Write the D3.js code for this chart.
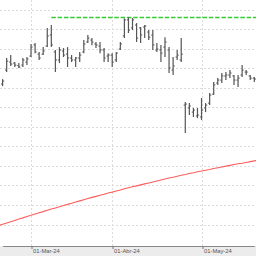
<!DOCTYPE html>
<html>
<head>
<meta charset="utf-8">
<script src="https://cdn.jsdelivr.net/npm/d3@7"></script>
<style>
  body { margin: 0; background: #fff; }
  svg { display: block; }
</style>
</head>
<body>
<div id="chart"></div>
<script>
// trading sessions; first and last are only used by the moving average (off-screen bars)
var dates = ["2024-02-20","2024-02-21","2024-02-22","2024-02-23","2024-02-26","2024-02-27","2024-02-28","2024-02-29",
  "2024-03-01","2024-03-04","2024-03-05","2024-03-06","2024-03-07","2024-03-08","2024-03-11","2024-03-12","2024-03-13",
  "2024-03-14","2024-03-15","2024-03-18","2024-03-19","2024-03-20","2024-03-21","2024-03-22","2024-03-25","2024-03-26",
  "2024-03-27","2024-03-28","2024-04-01","2024-04-02","2024-04-03","2024-04-04","2024-04-05","2024-04-08","2024-04-09",
  "2024-04-10","2024-04-11","2024-04-12","2024-04-15","2024-04-16","2024-04-17","2024-04-18","2024-04-19","2024-04-22",
  "2024-04-23","2024-04-24","2024-04-25","2024-04-26","2024-04-29","2024-04-30","2024-05-01","2024-05-02","2024-05-03",
  "2024-05-06","2024-05-07","2024-05-08","2024-05-09","2024-05-10","2024-05-13","2024-05-14","2024-05-15","2024-05-16",
  "2024-05-17","2024-05-20","2024-05-21"];

// OHLC for dates[1] .. dates[63]
var open = [162.0,169.1,173.2,172.7,171.4,171.7,173.2,176.3,182.0,177.3,
  177.3,181.4,187.1,178.4,174.3,178.9,177.3,175.3,174.3,175.3,
  178.4,183.5,184.5,182.5,181.4,179.4,176.3,176.8,174.3,179.9,
  186.6,194.8,190.7,192.2,190.7,191.2,188.6,187.1,179.4,179.4,
  180.9,179.4,169.1,175.8,174.3,151.2,149.7,147.6,145.6,145.1,
  149.7,152.2,156.8,162.5,164.0,166.1,166.6,166.1,164.0,166.6,
  168.1,166.1,165.0];
var high = [164.5,175.3,176.8,173.2,172.7,175.3,175.8,182.5,183.0,178.4,
  180.9,190.7,192.2,179.4,180.9,180.4,180.9,176.8,175.8,178.4,
  184.5,187.1,185.5,183.5,183.5,180.4,177.8,177.8,178.4,183.5,
  195.6,196.1,195.8,193.2,191.2,192.2,189.6,189.6,183.0,182.0,
  186.0,180.9,175.8,179.4,185.5,152.7,152.2,149.7,149.7,154.8,
  152.2,157.4,163.0,165.0,167.6,168.1,169.1,166.6,166.6,171.7,
  169.1,166.6,165.6];
var low = [160.9,168.1,171.2,170.7,170.2,170.7,171.7,175.8,177.8,174.3,
  176.8,180.9,180.9,168.1,172.7,175.8,170.7,173.2,170.7,173.2,
  177.8,183.0,181.9,180.4,177.8,173.2,173.2,170.7,173.2,179.4,
  185.5,188.1,189.6,183.5,183.0,185.5,184.5,179.4,178.4,173.2,
  175.8,167.6,166.6,174.3,173.2,136.9,146.1,145.1,144.5,143.5,
  147.6,151.2,156.3,161.5,162.5,164.0,165.0,161.5,160.4,165.6,
  166.6,164.0,163.0];
var close = [163.5,173.7,172.2,171.7,170.7,174.3,174.8,180.9,178.4,175.3,
  178.9,186.6,182.0,174.3,179.4,176.8,175.3,174.3,175.3,176.8,
  182.5,185.5,183.5,182.0,179.4,175.3,176.8,173.2,177.8,182.5,
  194.8,189.6,194.8,185.5,187.1,191.7,186.0,182.0,179.9,177.8,
  183.5,170.2,171.2,176.8,177.3,151.7,150.7,148.6,146.1,148.6,
  151.2,156.3,161.5,164.0,166.1,166.6,167.6,164.0,165.0,169.1,
  168.1,165.0,164.5];

// moving average, one value per entry of dates
var sma = [89.4,90.1,90.8,91.4,92.1,92.8,93.4,94.1,94.7,95.4,96.0,96.6,97.3,97.9,98.5,99.1,99.7,
  100.3,100.9,101.5,102.1,102.7,103.3,103.9,104.4,105.0,105.5,106.1,106.6,107.2,107.7,108.3,
  108.8,109.3,109.8,110.3,110.8,111.3,111.8,112.3,112.8,113.3,113.8,114.2,114.7,115.2,115.6,
  116.1,116.5,117.0,117.4,117.8,118.2,118.7,119.1,119.5,119.9,120.3,120.7,121.1,121.4,121.8,
  122.2,122.6,122.9];

var resistance = 196.1;
var resistanceFrom = "2024-03-08";

var tickDates = ["2024-03-01", "2024-04-01", "2024-05-01"];
var tickLabels = ["01-Mar-24", "01-Abr-24", "01-May-24"];
var yGrid = [90, 100, 110, 120, 130, 140, 150, 160, 170, 180, 190, 200];

var w = 256, h = 256, axisY = 246;

var svg = d3.select("#chart").append("svg")
    .attr("width", w)
    .attr("height", h)

var x = d3.scaleLinear().domain([1, 63]).range([2.6, 254.3]);
var y = d3.scaleLinear().domain([90, 200]).range([224.5, 9.8]);

var bars = open.map(function(d, i) {
    return { i: i + 1, o: d, h: high[i], l: low[i], c: close[i] };
});

// grey band under the axis
svg.append("rect")
    .attr("x", 0).attr("y", axisY)
    .attr("width", w).attr("height", h - axisY)
    .attr("fill", "#ececec");

var plot = svg.append("g");
plot.append("clipPath").attr("id", "clip")
    .append("rect").attr("width", w).attr("height", axisY);

// grid
plot.append("g").selectAll("line")
    .data(yGrid)
    .enter().append("line")
    .attr("x1", 0).attr("x2", w)
    .attr("y1", function(d) { return Math.round(y(d)) + 0.5; })
    .attr("y2", function(d) { return Math.round(y(d)) + 0.5; })
    .attr("stroke", "#dcdcdc")
    .attr("stroke-dasharray", "2,2");

plot.append("g").selectAll("line")
    .data(tickDates)
    .enter().append("line")
    .attr("x1", function(d) { return Math.round(x(dates.indexOf(d))) + 0.5; })
    .attr("x2", function(d) { return Math.round(x(dates.indexOf(d))) + 0.5; })
    .attr("y1", 0).attr("y2", axisY)
    .attr("stroke", "#dcdcdc")
    .attr("stroke-dasharray", "2,2");

var g = plot.append("g").attr("clip-path", "url(#clip)");

// moving average
var line = d3.line()
    .x(function(d, i) { return x(i); })
    .y(function(d) { return y(d); });
g.append("path")
    .datum(sma)
    .attr("d", line)
    .attr("fill", "none")
    .attr("stroke", "#ff5c5c")
    .attr("stroke-width", 1.1);

// resistance level
g.append("line")
    .attr("x1", x(dates.indexOf(resistanceFrom)))
    .attr("x2", w)
    .attr("y1", y(resistance))
    .attr("y2", y(resistance))
    .attr("stroke", "#33cc33")
    .attr("stroke-width", 1.5)
    .attr("stroke-dasharray", "4.5,1.8");

// ohlc bars
var bar = g.append("g")
    .attr("stroke", "#555")
    .selectAll("g")
    .data(bars)
    .enter().append("g");

bar.append("line")
    .attr("x1", function(d) { return x(d.i); })
    .attr("x2", function(d) { return x(d.i); })
    .attr("y1", function(d) { return y(d.h); })
    .attr("y2", function(d) { return y(d.l); })
    .attr("stroke-width", 1.2);
bar.append("line")
    .attr("x1", function(d) { return x(d.i) - 1.6; })
    .attr("x2", function(d) { return x(d.i); })
    .attr("y1", function(d) { return y(d.o); })
    .attr("y2", function(d) { return y(d.o); })
    .attr("stroke-width", 1);
bar.append("line")
    .attr("x1", function(d) { return x(d.i); })
    .attr("x2", function(d) { return x(d.i) + 1.6; })
    .attr("y1", function(d) { return y(d.c); })
    .attr("y2", function(d) { return y(d.c); })
    .attr("stroke", "#555")
    .attr("stroke-width", 1);

// x axis
var axis = d3.axisBottom(x)
    .tickValues(tickDates.map(function(d) { return Math.round(x(dates.indexOf(d))) + 0.5; }).map(x.invert))
    .tickFormat(function(d, i) { return tickLabels[i]; })
    .tickSize(3)
    .tickSizeOuter(0);

var ax = svg.append("g")
    .attr("transform", "translate(0," + axisY + ")")
    .call(axis);
ax.select(".domain").attr("stroke", "#888");
ax.selectAll(".tick line").attr("stroke", "#777");
ax.selectAll(".tick text")
    .attr("text-anchor", "start")
    .attr("x", 1)
    .attr("y", 3.2)
    .attr("fill", "#555")
    .style("font-family", "Liberation Sans, Arial, sans-serif")
    .style("font-size", "5.8px");
</script>
</body>
</html>
